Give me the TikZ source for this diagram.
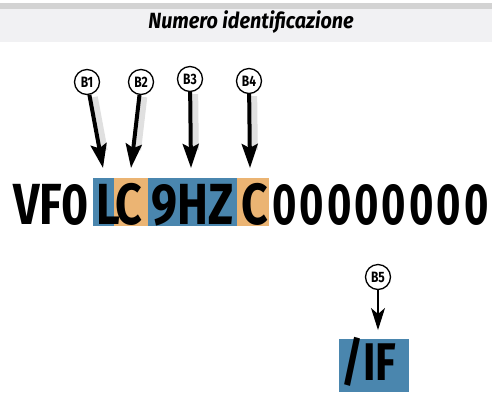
\documentclass[tikz,border=0pt]{standalone}
\usepackage{fontspec}
\setmainfont{Fira Sans}
\newfontfamily\vinfont[FakeStretch=0.8]{Fira Sans}
\newfontfamily\zerofont[FakeStretch=0.72]{Fira Sans}
\newfontfamily\titfont[FakeStretch=0.9]{Fira Sans}
\usetikzlibrary{arrows.meta}
\definecolor{vinblue}{HTML}{4A86AE}
\definecolor{vinorange}{HTML}{EBB473}
\definecolor{bandtop}{HTML}{D3D3D3}
\definecolor{bandmain}{HTML}{F1F1F3}
\tikzset{
  vin/.style={font=\vinfont\bfseries\fontsize{58}{58}\selectfont, inner sep=0pt, anchor=base west, text=black},
  bluebox/.style={fill=vinblue, inner sep=0pt, anchor=north west, minimum height=48},
  orangebox/.style={fill=vinorange, inner sep=0pt, anchor=north west, minimum height=48},
  callout/.style={circle, draw=black, fill=white, line width=1.3pt, minimum size=25pt, inner sep=0pt,
    font=\vinfont\bfseries\fontsize{15}{15}\selectfont},
  bigarrow/.style={line width=4pt, -{Stealth[length=24pt,width=16pt,inset=4pt]}},
  thinarrow/.style={line width=1.2pt, -{Stealth[length=22pt,width=14pt,inset=6pt]}},
  shade/.style={line width=6pt, draw=black!12, shorten >=18pt, shorten <=2pt},
}
\begin{document}
\begin{tikzpicture}[x=1pt,y=-1pt]
\useasboundingbox (0,0) rectangle (492,392);
\fill[white] (0,0) rectangle (492,392);
\fill[bandtop] (0,3) rectangle (492,9);
\node[fill=bandmain, minimum width=492, minimum height=33, anchor=north west, inner sep=0pt] (hdr) at (0,9) {};
\node[font=\titfont\bfseries\itshape\fontsize{22}{22}\selectfont, anchor=base, inner sep=0pt] (title) at (251,28) {Numero identificazione};

% highlight boxes
\node[bluebox, minimum width=21] (bx1) at (93,178) {};
\node[orangebox, minimum width=34] (bx2) at (114,178) {};
\node[bluebox, minimum width=89] (bx3) at (148,178) {};
\node[orangebox, minimum width=32] (bx4) at (237,178) {};
\node[bluebox, minimum width=70, minimum height=53] (bx5) at (339,339) {};

% VIN text
\node[vin] (t0) at (13,224) {VF0};
\node[vin] (t1) at (96,224) {L};
\node[vin] (t2) at (115,224) {C};
\node[vin] (t3) at (151,224) {9HZ};
\node[vin] (t4) at (241,224) {C};
\foreach \i in {0,...,7} {
  \node[vin, font=\zerofont\bfseries\fontsize{58}{58}\selectfont] (z\i) at (272+27.4*\i,224) {0};
}
\node[vin, font=\vinfont\bfseries\fontsize{53}{53}\selectfont] (t6) at (341,380) {/IF};

% callouts
\node[callout] (c1) at (87,82) {B1};
\node[callout] (c2) at (141,82) {B2};
\node[callout] (c3) at (190,79) {B3};
\node[callout] (c4) at (249,81) {B4};
\node[callout] (c5) at (378,277) {B5};

\coordinate (p1) at (103,168);
\coordinate (p2) at (131,168);
\coordinate (p3) at (191,168);
\coordinate (p4) at (250,168);
\coordinate (p5) at (378,330);

\draw[shade, transform canvas={xshift=5pt}] (c1) -- (p1);
\draw[shade, transform canvas={xshift=5pt}] (c2) -- (p2);
\draw[shade, transform canvas={xshift=5pt}] (c3) -- (p3);
\draw[shade, transform canvas={xshift=5pt}] (c4) -- (p4);

\draw[bigarrow] (c1) -- (p1);
\draw[bigarrow] (c2) -- (p2);
\draw[bigarrow] (c3) -- (p3);
\draw[bigarrow] (c4) -- (p4);
\draw[thinarrow] (c5) -- (p5);
\end{tikzpicture}
\end{document}
